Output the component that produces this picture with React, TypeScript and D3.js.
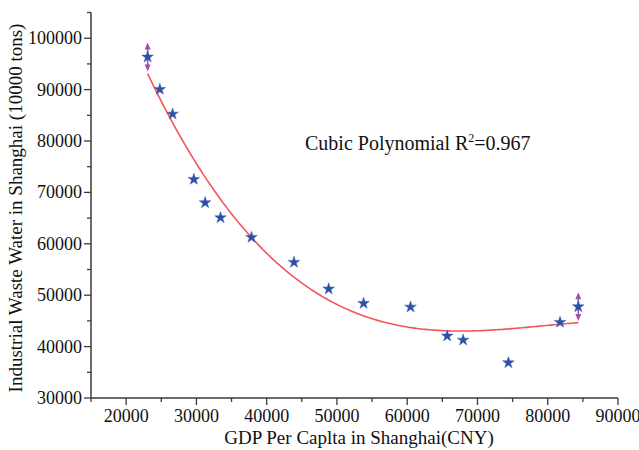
import React from "react";
import * as d3 from "d3";

const gdp = [23060, 24800, 26610, 29640, 31240, 33430, 37840, 43890, 48820, 53790, 60470, 65690, 67960, 74400, 81750, 84350];
const water = [96340, 90060, 85250, 72550, 68000, 65080, 61260, 56400, 51210, 48420, 47700, 42060, 41280, 36870, 44730, 47760];
const errorPoints = [0, 15];
const errorSize = [2800, 2800];
const xTicks = [20000, 30000, 40000, 50000, 60000, 70000, 80000, 90000];
const yTicks = [30000, 40000, 50000, 60000, 70000, 80000, 90000, 100000];
const annotation = "Cubic Polynomial R";

function cubicFit(xs: number[], ys: number[]) {
  const c = 50000, s = 30000;
  const n = 4;
  const A = Array.from({ length: n }, () => new Array(n + 1).fill(0));
  xs.forEach((x, i) => {
    const t = (x - c) / s;
    const p = [1, t, t * t, t * t * t];
    for (let r = 0; r < n; r++) {
      for (let k = 0; k < n; k++) A[r][k] += p[r] * p[k];
      A[r][n] += p[r] * ys[i];
    }
  });
  for (let i = 0; i < n; i++) {
    let m = i;
    for (let r = i + 1; r < n; r++) if (Math.abs(A[r][i]) > Math.abs(A[m][i])) m = r;
    [A[i], A[m]] = [A[m], A[i]];
    for (let r = 0; r < n; r++) {
      if (r === i) continue;
      const f = A[r][i] / A[i][i];
      for (let k = i; k <= n; k++) A[r][k] -= f * A[i][k];
    }
  }
  const coef = A.map((row, i) => row[n] / row[i]);
  return (x: number) => {
    const t = (x - c) / s;
    return coef[0] + coef[1] * t + coef[2] * t * t + coef[3] * t * t * t;
  };
}

export default function App() {
  const W = 639, H = 450;
  const x = d3.scaleLinear().domain([15000, 90000]).range([91, 618]);
  const y = d3.scaleLinear().domain([30000, 105000]).range([398, 12.5]);
  const f = cubicFit(gdp, water);
  const xmin = d3.min(gdp)!, xmax = d3.max(gdp)!;
  const curvePts = d3.range(0, 201).map((i) => {
    const xv = xmin + ((xmax - xmin) * i) / 200;
    return [x(xv), y(f(xv))] as [number, number];
  });
  const line = d3.line();
  const star = d3.symbol().type(d3.symbolStar).size(42)()!;
  const xMinor = d3.range(15000, 90001, 5000);
  const yMinor = d3.range(30000, 105001, 5000);
  const font = "'Liberation Serif', 'Times New Roman', serif";
  const axisColor = "#3a3a3a";
  const errColor = "#a350a8";

  return (
    <svg width={W} height={H} style={{ position: "absolute", left: 0, top: 0, background: "#fff" }}>
      <rect x={0} y={0} width={W} height={H} fill="#fff" />
      {/* axes */}
      <line x1={x(15000)} x2={x(90000)} y1={398} y2={398} stroke={axisColor} strokeWidth={1.5} />
      <line x1={91} x2={91} y1={y(105000)} y2={398} stroke={axisColor} strokeWidth={1.5} />
      {xMinor.map((v) => (
        <line key={"xm" + v} x1={x(v)} x2={x(v)} y1={398} y2={v % 10000 === 0 ? 405 : 402} stroke={axisColor} strokeWidth={1.3} />
      ))}
      {yMinor.map((v) => (
        <line key={"ym" + v} x1={91} x2={v % 10000 === 0 ? 84 : 87} y1={y(v)} y2={y(v)} stroke={axisColor} strokeWidth={1.3} />
      ))}
      {xTicks.map((v) => (
        <text key={"xt" + v} x={x(v)} y={422} textAnchor="middle" fontFamily={font} fontSize={18} fill="#111">
          {v}
        </text>
      ))}
      {yTicks.map((v) => (
        <text key={"yt" + v} x={82} y={y(v) + 6} textAnchor="end" fontFamily={font} fontSize={18} fill="#111">
          {v}
        </text>
      ))}
      <text x={359} y={444} textAnchor="middle" fontFamily={font} fontSize={19} fill="#111">
        GDP Per Caplta in Shanghai(CNY)
      </text>
      <text transform={`translate(22,208) rotate(-90)`} textAnchor="middle" fontFamily={font} fontSize={19} fill="#111">
        Industrial Waste Water in Shanghai (10000 tons)
      </text>
      {/* fit curve */}
      <path d={line(curvePts)!} fill="none" stroke="#f25656" strokeWidth={1.6} />
      {/* error arrows */}
      {errorPoints.map((idx, k) => {
        const cx = x(gdp[idx]);
        const top = y(water[idx] + errorSize[k]);
        const bot = y(water[idx] - errorSize[k]);
        return (
          <g key={"err" + idx} fill={errColor} stroke={errColor}>
            <line x1={cx} x2={cx} y1={top + 3} y2={bot - 3} strokeWidth={1.5} />
            <path d={`M${cx},${top}L${cx - 3},${top + 7}L${cx + 3},${top + 7}Z`} stroke="none" />
            <path d={`M${cx},${bot}L${cx - 3},${bot - 7}L${cx + 3},${bot - 7}Z`} stroke="none" />
          </g>
        );
      })}
      {/* points */}
      {gdp.map((g, i) => (
        <path key={"p" + i} d={star} transform={`translate(${x(g)},${y(water[i])})`} fill="#2c50a6" stroke="#3a5cb0" strokeWidth={0.5} />
      ))}
      <text x={305} y={150} fontFamily={font} fontSize={20} fill="#111">
        {annotation}
        <tspan dy={-8} fontSize={12}>2</tspan>
        <tspan dy={8}>=0.967</tspan>
      </text>
    </svg>
  );
}
